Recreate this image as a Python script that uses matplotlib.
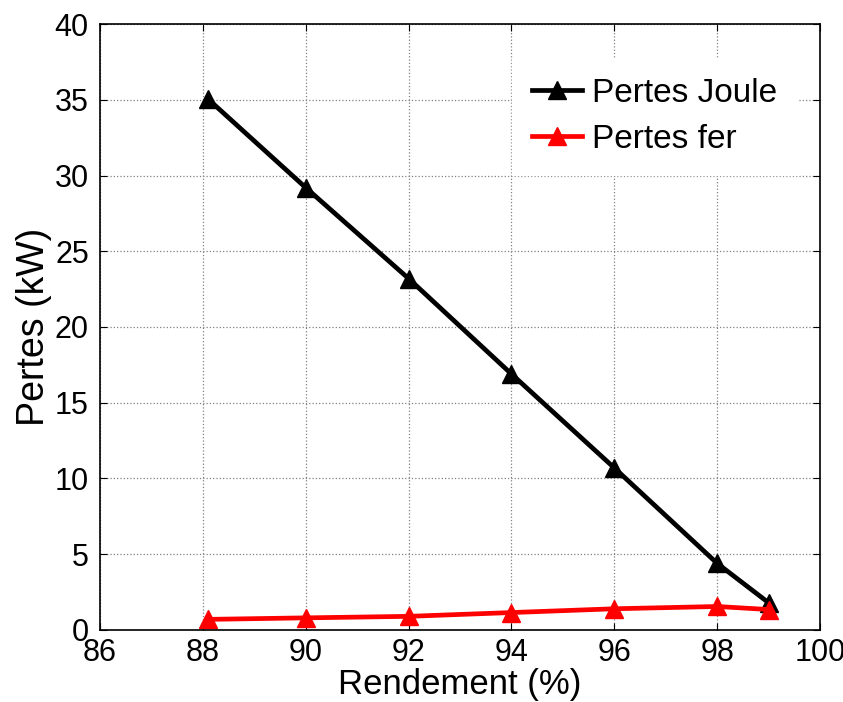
import numpy as np
from matplotlib import pyplot as plt

plt.rcParams['font.family'] = ['Liberation Sans', 'DejaVu Sans']

# rendement (%) and losses (kW)
rendement = [88.1, 90, 92, 94, 96, 98, 99]
pertes_joule = [35.05, 29.2, 23.2, 16.9, 10.7, 4.4, 1.8]
pertes_fer = [0.7, 0.8, 0.9, 1.15, 1.4, 1.55, 1.35]

xticks = [86, 88, 90, 92, 94, 96, 98, 100]
yticks = [0, 5, 10, 15, 20, 25, 30, 35, 40]

fig = plt.figure(figsize=(8.43, 7.02), dpi=100)
ax = fig.add_axes([0.1186, 0.1026, 0.8541, 0.8632])

ax.plot(rendement, pertes_joule, color='black', lw=3.4, marker='^',
        markersize=13, label='Pertes Joule')
ax.plot(rendement, pertes_fer, color='red', lw=3.4, marker='^',
        markersize=13, label='Pertes fer')

ax.set_xlim(86, 100)
ax.set_ylim(0, 40)
ax.set_xticks(xticks)
ax.set_yticks(yticks)
ax.tick_params(direction='in', labelsize=22, length=5, top=True, right=True)
ax.tick_params(axis='x', pad=6)
ax.tick_params(axis='y', pad=8)
ax.grid(True, color='0.5', linestyle=':', linewidth=0.9)
for s in ax.spines.values():
    s.set_linewidth(1.2)

ax.set_xlabel('Rendement (%)', fontsize=25, labelpad=0)
ax.set_ylabel('Pertes (kW)', fontsize=27, labelpad=2)

leg = ax.legend(loc='upper right', bbox_to_anchor=(1.0, 0.983), fontsize=24,
                frameon=True, fancybox=False, handlelength=1.5,
                handletextpad=0.3, borderaxespad=0.7, labelspacing=0.45,
                borderpad=0.6)
leg.get_frame().set_edgecolor('white')
leg.get_frame().set_alpha(1)

fig.savefig('out.png', dpi=100)
